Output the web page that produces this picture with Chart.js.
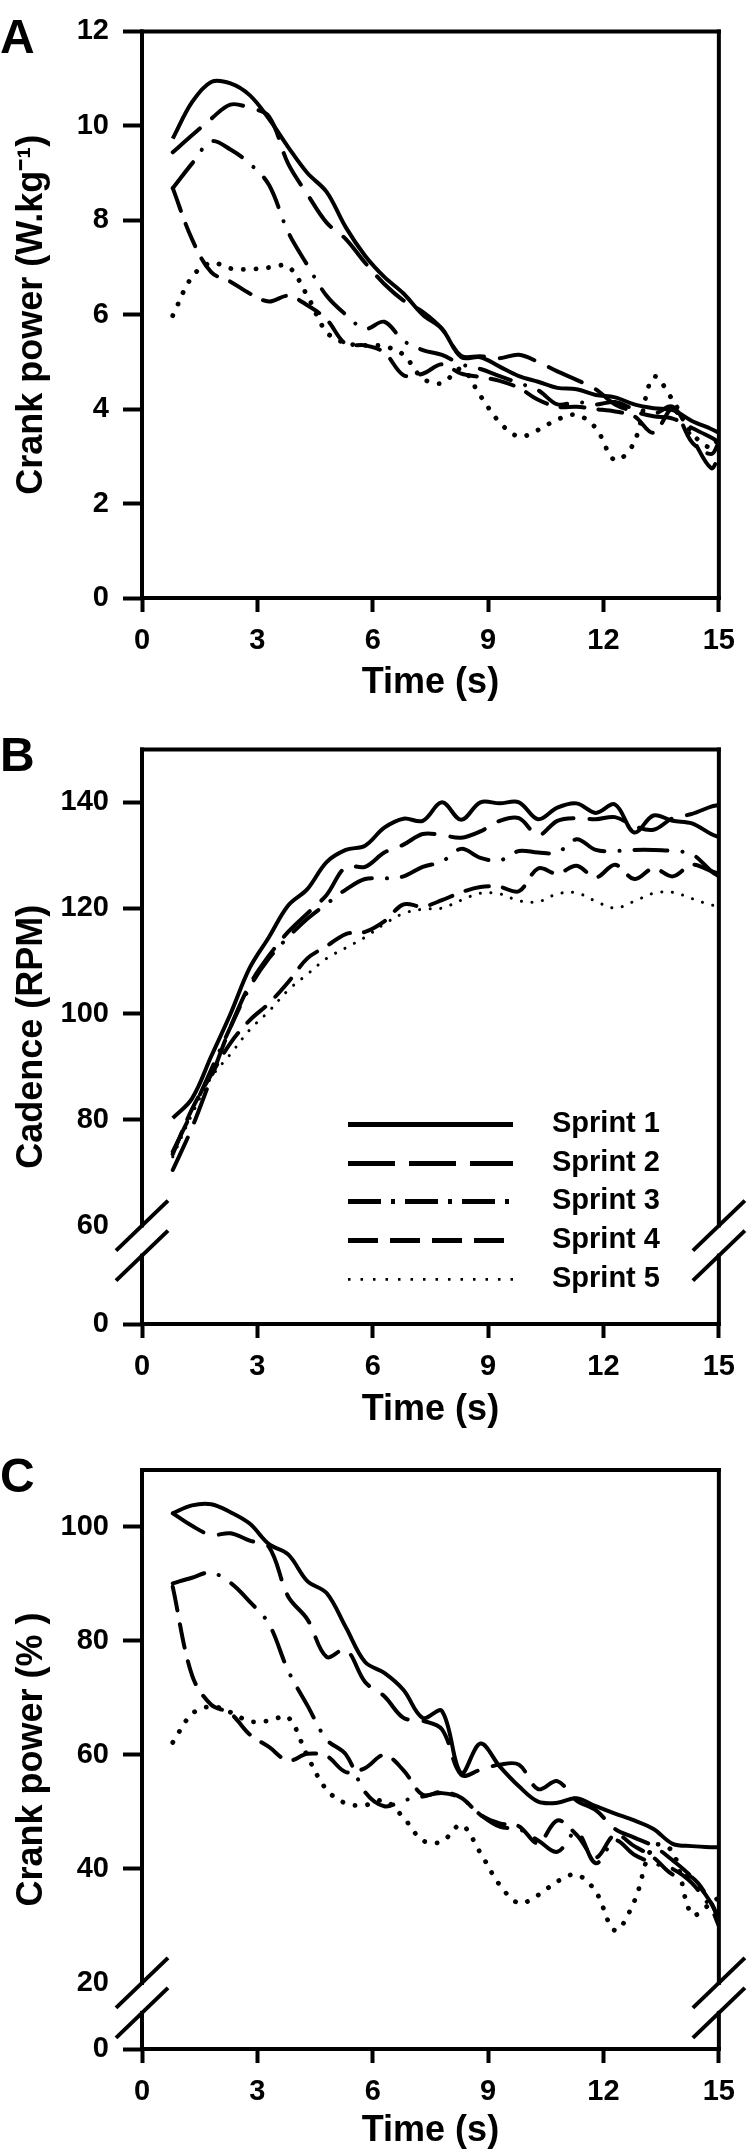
<!DOCTYPE html>
<html>
<head>
<meta charset="utf-8">
<script src="https://cdn.jsdelivr.net/npm/chart.js@4.4.1/dist/chart.umd.min.js"></script>
<style>
html,body{margin:0;padding:0;background:#fff;}
#wrap{position:relative;width:747px;height:2153px;background:#fff;overflow:hidden;}
canvas{position:absolute;left:0;}
</style>
</head>
<body>
<div id="wrap">
<canvas id="cA" width="747" height="712" style="top:0px"></canvas>
<canvas id="cB" width="747" height="720" style="top:718px"></canvas>
<canvas id="cC" width="747" height="715" style="top:1438px"></canvas>
</div>
<script>
// ---------------- DATA ----------------
const TIME_S = [0.8,1.3,1.8,2.3,2.8,3.3,3.8,4.3,4.8,5.3,5.8,6.3,6.8,7.3,7.8,8.3,8.8,9.3,9.8,10.3,10.8,11.3,11.8,12.3,12.8,13.3,13.8,14.3,14.8,15.0];
const SPRINTS = ['Sprint 1','Sprint 2','Sprint 3','Sprint 4','Sprint 5'];
const X_TICKS = [0,3,6,9,12,15];

// Panel A: crank power (W.kg-1)
const A_SPRINT1 = [9.73,10.5,10.93,10.9,10.65,10.15,9.55,9.0,8.6,7.85,7.25,6.8,6.45,6.0,5.7,5.1,5.1,4.9,4.7,4.58,4.45,4.42,4.3,4.25,4.1,4.02,3.98,3.75,3.58,3.5];
const A_SPRINT2 = [9.44,9.8,10.15,10.45,10.38,10.2,9.2,8.55,7.95,7.6,7.1,6.65,6.3,6.06,5.7,5.13,5.12,5.08,5.15,5.0,4.8,4.62,4.42,4.1,3.95,3.85,3.8,3.6,3.4,3.3];
const A_SPRINT3 = [8.68,9.2,9.67,9.5,9.2,8.75,7.75,7.05,6.4,6.0,5.7,5.85,5.45,5.25,5.15,4.95,4.85,4.7,4.55,4.4,4.1,4.15,4.1,4.15,4.0,3.9,4.05,3.4,2.75,3.0];
const A_SPRINT4 = [8.68,7.6,6.9,6.7,6.45,6.28,6.4,6.2,5.9,5.38,5.35,5.2,4.72,4.75,4.95,4.75,4.68,4.6,4.45,4.2,4.05,4.05,4.0,3.95,3.85,3.5,4.0,3.3,3.05,3.3];
const A_SPRINT5 = [5.98,6.8,7.1,6.98,6.96,7.0,7.02,6.4,5.63,5.4,5.35,5.33,5.15,4.65,4.55,4.85,4.28,3.72,3.42,3.56,3.78,3.88,3.6,2.92,3.3,4.68,4.19,3.49,3.18,3.42];
const A_Y_TICKS = [0,2,4,6,8,10,12];

// Panel B: cadence (RPM)
const B_SPRINT1 = [80.3,84,92,100,108.7,114.5,120.5,123.6,128.7,131,131.8,135.2,136.9,136.5,140,136.7,140,139.8,140,136.8,139,139.8,138,139.6,134.3,137.5,136.5,136,134,133.4];
const B_SPRINT2 = [70.5,78.5,88,97.5,105.5,111,115.5,119,122.5,127.8,127.8,130.5,132,134,133.8,133.3,134.5,136.5,137,133.8,136.5,137,136.8,137.2,135.5,134.8,137,137.8,139.2,139.5];
const B_SPRINT3 = [74,81.5,89.5,97.5,105,110.5,114.5,118,120.8,123.5,125.5,125.6,126,127.8,128.8,131.2,129.5,129,130.8,130.5,130.5,133,131,130.8,131,131,130.8,130.2,127,126];
const B_SPRINT4 = [73.5,82,88.5,94.5,98.8,102,106,110.5,112.8,115.1,115.5,117.5,120.7,120.3,121.5,123,124,124,123.2,127.5,126.5,128,125.8,128.2,125.5,127.5,126,128.2,127,126.5];
const B_SPRINT5 = [73,81,88,92.4,97,100.5,104.5,107.5,110.5,112.5,114.5,117,119,119.8,120,121.5,122.8,122.7,121.4,121.2,122.7,122.9,121.3,120,121.3,122.8,123,121.8,120.6,120.5];
const B_Y_TICKS = [60,80,100,120,140];
const B_AXIS_ZERO = 41.4;   // compressed position labelled "0" below the axis break

// Panel C: crank power (%)
const C_SPRINT1 = [102.4,103.8,104,102.6,100.6,97,95.2,90.5,88.4,82.4,76.3,74.4,71.4,66.5,67.7,56.8,62,58,54.5,51.8,51.6,52.4,51,49.7,48.5,47,44.4,44,43.8,43.8];
const C_SPRINT2 = [102.4,100.2,98.6,98.9,97.6,96.5,87.8,83.8,77.2,78.5,72.8,70.3,66.5,66,64.5,56.5,57.4,58.3,58.3,54,55.4,52,50.3,47,45.5,44,41.5,38.5,34,31];
const C_SPRINT3 = [90.1,91.1,92,90.2,86.9,83,74.8,68.7,62.7,60.1,53.5,51,52,52.7,53.3,52.4,49.5,47.4,47,45,43,46.5,41,45,42.5,41,40,37.5,33,30];
const C_SPRINT4 = [89.5,74,68.8,67.3,63.6,61.4,59,60.2,59.8,57,57.7,60,57.3,53,53.5,52.5,49.5,48,47.5,44.5,48.5,46,42,46,44,42,39,38.5,34,31];
const C_SPRINT5 = [62.2,67.2,68.5,67.5,65.9,66,66.6,59.8,53.9,51.5,51.2,52,49,45,44.8,47.7,42.8,37.2,34,35.4,37.8,39,36,29.2,34.3,44,43,32,34,35];
const C_Y_TICKS = [20,40,60,80,100];
const C_AXIS_ZERO = 8.4;    // compressed position labelled "0" below the axis break

// ---------------- STYLE ----------------
const FONT_FAMILY = '"Liberation Sans", Arial, Helvetica, sans-serif';
const TICK_FONT = {family: FONT_FAMILY, size: 29, weight: 'bold'};
const TITLE_FONT = {family: FONT_FAMILY, size: 36, weight: 'bold'};
const LINE_W = 4;
const AXIS_W = 4;
const DASHES = [[], [36,16], [33,15,0.1,15], [24,14], [0.1,12.5]];
const PLOT_LEFT = 142, PLOT_RIGHT = 719;

Chart.defaults.font.family = FONT_FAMILY;
Chart.defaults.color = '#000';

function seg(ctx, x1, y1, x2, y2) {
  ctx.beginPath(); ctx.moveTo(x1, y1); ctx.lineTo(x2, y2); ctx.stroke();
}

const framePlugin = {
  id: 'frame',
  afterDraw(chart, args, o) {
    const ctx = chart.ctx, a = chart.chartArea, y = chart.scales.y;
    ctx.save();
    ctx.strokeStyle = '#000';
    ctx.lineWidth = AXIS_W;
    ctx.lineCap = 'square';
    seg(ctx, a.left, a.top, a.right, a.top);
    seg(ctx, a.left, a.bottom, a.right, a.bottom);
    if (o.breakAt != null) {
      const yb = y.getPixelForValue(o.breakAt);
      const yg = yb + 30;
      [a.left, a.right].forEach(x => {
        ctx.lineCap = 'square';
        seg(ctx, x, a.top, x, yb);
        seg(ctx, x, yg, x, a.bottom);
        ctx.lineCap = 'butt';
        seg(ctx, x - 26, yb + 25, x + 26, yb - 25);
        seg(ctx, x - 26, yg + 25, x + 26, yg - 25);
      });
    } else {
      seg(ctx, a.left, a.top, a.left, a.bottom);
      seg(ctx, a.right, a.top, a.right, a.bottom);
    }
    // panel letter
    ctx.fillStyle = '#000';
    ctx.font = 'bold 48px ' + FONT_FAMILY;
    ctx.textAlign = 'left';
    ctx.textBaseline = 'alphabetic';
    ctx.fillText(o.letter, 0, a.top + 22);
    // legend
    if (o.legend) {
      const rowOff = [375, 414, 452, 491, 530];
      const lgDash = [[], [47,14], [33,10,4,10], [30,12], [2.5,10]];
      const lgW = [5, 5, 5, 5, 2.8];
      ctx.font = 'bold 29px ' + FONT_FAMILY;
      ctx.textBaseline = 'middle';
      SPRINTS.forEach((name, i) => {
        const yy = a.top + rowOff[i];
        ctx.lineCap = 'butt';
        ctx.lineWidth = lgW[i];
        ctx.setLineDash(lgDash[i]);
        seg(ctx, 348, yy, 513, yy);
        ctx.setLineDash([]);
        ctx.fillText(name, 552, yy);
      });
    }
    ctx.restore();
  }
};

function makePanel(p) {
  const tickVals = p.zeroAt != null ? [p.zeroAt].concat(p.yTicks) : p.yTicks.slice();
  const datasets = p.series.map((vals, i) => ({
    label: SPRINTS[i],
    data: TIME_S.map((t, k) => ({x: t, y: vals[k]})),
    borderColor: '#000',
    borderWidth: i === 4 ? p.dotW : LINE_W,
    borderDash: i === 4 ? [0.1, p.dotGap] : DASHES[i],
    borderCapStyle: i === 0 ? 'butt' : 'round',
    borderJoinStyle: 'round',
    pointRadius: 0,
    tension: 0.35,
    fill: false
  }));
  return new Chart(document.getElementById(p.id), {
    type: 'line',
    data: {datasets},
    plugins: [framePlugin],
    options: {
      responsive: false,
      animation: false,
      events: [],
      layout: {padding: {left: 0, right: 747 - PLOT_RIGHT, top: p.chartTop, bottom: 0}},
      plugins: {
        legend: {display: false},
        tooltip: {enabled: false},
        frame: {letter: p.letter, breakAt: p.breakAt, legend: !!p.legend}
      },
      scales: {
        x: {
          type: 'linear', min: 0, max: 15,
          afterBuildTicks: s => { s.ticks = X_TICKS.map(v => ({value: v})); },
          afterFit: s => { s.height = p.H - p.chartBottom; },
          grid: {display: true, drawOnChartArea: false, drawTicks: true, tickLength: 14, tickWidth: AXIS_W, tickColor: '#000'},
          border: {display: false},
          ticks: {font: TICK_FONT, color: '#000', padding: 12, maxRotation: 0, autoSkip: false},
          title: {display: true, text: 'Time (s)', font: TITLE_FONT, color: '#000', padding: {top: 0, bottom: p.titlePad}}
        },
        y: {
          type: 'linear', min: p.yMin, max: p.yMax,
          afterBuildTicks: s => { s.ticks = tickVals.map(v => ({value: v})); },
          afterFit: s => { s.width = PLOT_LEFT; },
          grid: {
            display: true, drawOnChartArea: false, drawTicks: true, tickLength: 19, tickWidth: AXIS_W,
            tickColor: c => (p.breakAt != null && c.tick && c.tick.value === p.breakAt) ? 'rgba(0,0,0,0)' : '#000'
          },
          border: {display: false},
          ticks: {
            font: TICK_FONT, color: '#000', padding: 14, autoSkip: false,
            callback: v => (p.zeroAt != null && v === p.zeroAt) ? '0' : String(v)
          },
          title: {display: true, text: p.yTitle, font: TITLE_FONT, color: '#000', padding: {top: 10, bottom: 0}}
        }
      }
    }
  });
}

makePanel({
  id: 'cA', H: 712, chartTop: 20, chartBottom: 598, titlePad: 7,
  yMin: 0, yMax: 12, yTicks: A_Y_TICKS, zeroAt: null, breakAt: null,
  yTitle: 'Crank power (W.kg\u207B\u00B9)', letter: 'A',
  series: [A_SPRINT1, A_SPRINT2, A_SPRINT3, A_SPRINT4, A_SPRINT5], dotW: 4.8, dotGap: 12.5
});
makePanel({
  id: 'cB', H: 720, chartTop: 29, chartBottom: 606, titlePad: 6,
  yMin: B_AXIS_ZERO, yMax: 150, yTicks: B_Y_TICKS, zeroAt: B_AXIS_ZERO, breakAt: 60,
  yTitle: 'Cadence (RPM)', letter: 'B', legend: true,
  series: [B_SPRINT1, B_SPRINT2, B_SPRINT3, B_SPRINT4, B_SPRINT5], dotW: 3, dotGap: 10.5
});
makePanel({
  id: 'cC', H: 715, chartTop: 32, chartBottom: 611, titlePad: 0,
  yMin: C_AXIS_ZERO, yMax: 110, yTicks: C_Y_TICKS, zeroAt: C_AXIS_ZERO, breakAt: 20,
  yTitle: 'Crank power (% )', letter: 'C',
  series: [C_SPRINT1, C_SPRINT2, C_SPRINT3, C_SPRINT4, C_SPRINT5], dotW: 4.8, dotGap: 12.5
});
</script>
</body>
</html>
